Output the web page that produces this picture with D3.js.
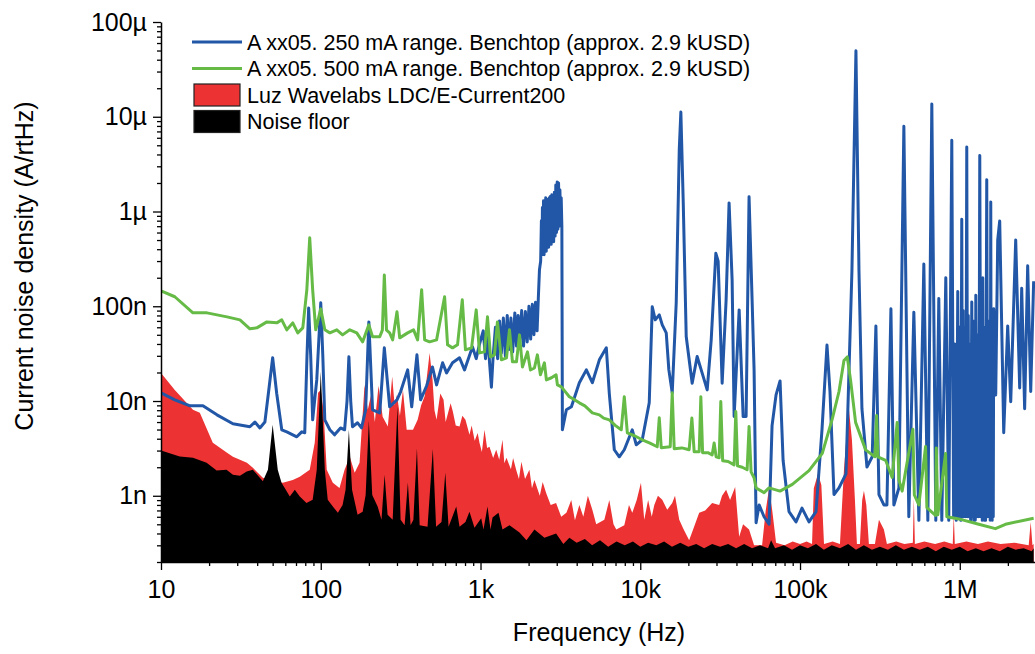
<!DOCTYPE html>
<html><head><meta charset="utf-8">
<script src="https://cdn.jsdelivr.net/npm/d3@7"></script>
<style>body{margin:0;background:#fff}svg{display:block;font-family:"Liberation Sans",Arial,sans-serif}</style>
</head><body><svg id="c" width="1035" height="654"></svg>
<script>
// ---- data (frequency in Hz, noise in nA/rtHz) ----
const xTickValues = [10, 100, 1e3, 1e4, 1e5, 1e6];
const xTickLabels = ["10", "100", "1k", "10k", "100k", "1M"];
const yTickValues = [1, 10, 100, 1e3, 1e4, 1e5];
const yTickLabels = ["1n", "10n", "100n", "1µ", "10µ", "100µ"];
const seriesNames = [
  "A xx05. 250 mA range. Benchtop (approx. 2.9 kUSD)",
  "A xx05. 500 mA range. Benchtop (approx. 2.9 kUSD)",
  "Luz Wavelabs LDC/E-Current200",
  "Noise floor"
];
const seriesColors = ["#2157a6", "#66bb46", "#ec3232", "#000000"];

const blue250 = [
[10,12.2],[12.2,10.3],[15.2,8.9],[18.3,8.9],[22.4,7.15],[28.2,5.75],[36,5.35],[38.7,6.0],[41.6,5.2],[44.7,6.0],[47,12],[50,28.6],[53,12],[57,4.97],[61.3,4.73],[70.8,4.19],[76,4.73],[79.4,4.62],[82,30],[84,96],[86.5,30],[89,6.33],[94.4,16.7],[100,109],[103,30],[106,6.33],[114,4.97],[122,4.4],[133,5.2],[141,4.97],[146,10],[150,29.3],[154,10],[158,5.35],[170,5.89],[180,5.2],[191,8.08],[200,68.4],[211,8.08],[234,7.5],[250,36.4],[270,8.7],[300,10.3],[316,12.5],[350,21.3],[371,8.7],[400,30.7],[422,10.3],[460,14.5],[500,22.9],[531,14.8],[579,25.3],[613,19.8],[668,25.3],[739,28.6],[794,21.3],[891,37.3],[940,28],[986,40],
[1040,55],[1075,28],[1110,50],[1140,25],[1170,14],[1200,30],[1240,60],[1280,28],[1315,70],[1350,32],[1390,75],[1430,30],[1470,80],[1510,35],[1550,75],[1590,33],[1640,85],[1680,38],[1720,80],[1760,40],[1810,90],[1860,38],[1910,88],[1960,42],[2010,100],[2060,45],[2110,105],[2160,50],[2210,110],[2260,55],[2300,120],[2339,242],
[2380,300],[2405,800],[2425,350],[2441,1100],[2460,400],[2480,1300],[2500,350],[2520,1200],[2540,420],[2560,1400],[2580,380],[2600,1300],[2620,450],[2645,1350],[2670,420],[2695,1400],[2720,480],[2745,1450],[2770,450],[2795,1500],[2820,500],[2845,1400],[2870,480],[2900,1600],[2930,550],[2960,1900],[2990,600],[3020,2050],[3050,650],[3080,2000],[3110,700],[3140,1700],[3170,900],[3200,1400],[3230,700],
[3255,4.97],[3447,8.08],[3706,8.7],[4156,15.6],[4597,21.3],[5012,15.6],[5546,27.2],[6131,36.4],[6400,12],[6879,3.06],[7391,2.58],[7943,3.06],[8913,4.97],[9441,3.45],[10290,3.9],[11380,9.57],[11885,98.6],[12410,71.9],[13150,81.1],[13730,63.6],[14540,52.4],[15100,21.3],[15850,12.2],[16790,109],[17540,4467],[17950,11240],[18580,1233],[19390,48],[21130,15.4],[22700,29.5],[24410,19.7],[26240,13.1],[27800,44.2],[29720,362],[30720,300],[32550,15.4],[34470,117],[35970,1233],[37580,190],[38680,6.85],[41590,91.5],[44050,6.85],[45970,6.85],[47970,1430],[50120,117],[51580,21.3],[53090,0.52],[55460,0.8],[59570,0.6],[64000,0.5],[66830,5.5],[70790,11.6],[74990,16.3],[78340,2.37],[85310,0.68],[94410,0.53],[102900,0.74],[113800,0.53],[125900,0.68],[137300,5.03],[147500,39],[154000,12.6],[163200,1.03],[175400,1.21],[193900,1.7],[211300,236],[223900,49800],[233900,236],[244100,8.3],[262400,2.01],[283000,2.58],[298500,62],[311900,1.03],[335000,0.8],[349900,0.8],[370700,94.2],[386800,0.8],[415900,1.21],[446700,7920],[479700,0.6],[515800,86.4],[554600,0.55],[595700,279],[631000,0.55],[668300,13650],[707900,0.55],[739100,121],[771800,0.55],[817500,200],[853200,0.55],[891300,5660],[915000,0.6],[930600,40],[950000,0.55],[971600,143],[985000,0.6],[1.0e6,60],[1.015e6,0.55],[1.029e6,828],[1.04e6,0.6],[1.05e6,90],[1.06e6,0.6],[1.075e6,60],[1.09e6,0.6],[1.106e6,4790],[1.12e6,0.6],[1.13e6,80],[1.14e6,0.6],[1.155e6,40],[1.17e6,0.55],[1.189e6,111],[1.2e6,0.6],[1.215e6,70],[1.225e6,0.55],[1.241e6,60],[1.25e6,0.55],[1.26e6,131],[1.28e6,0.6],[1.3e6,50],[1.315e6,0.6],[1.334e6,3890],[1.355e6,0.6],[1.373e6,30],[1.383e6,0.55],[1.393e6,200],[1.405e6,0.6],[1.415e6,60],[1.425e6,0.55],[1.432e6,50],[1.45e6,0.55],[1.475e6,2160],[1.495e6,0.6],[1.517e6,40],[1.53e6,0.6],[1.54e6,70],[1.55e6,0.55],[1.563e6,1257],[1.575e6,0.6],[1.585e6,50],[1.595e6,0.55],[1.607e6,30],[1.62e6,0.6],[1.631e6,94],[1.679e6,11.6],[1.728e6,501],[1.778e6,794],[1.884e6,4.63],[1.995e6,62],[2.084e6,9.83],[2.239e6,501],[2.371e6,13.7],[2.441e6,155],[2.547e6,8.3],[2.661e6,267],[2.78e6,12.6],[2.9e6,184]
];

const green500 = [
[10,145],[12.2,126],[15.85,85.2],[19.4,85.2],[25.9,77.3],[31.2,71.9],[36,57.8],[39.8,59.2],[46,68.4],[53.1,66.8],[57,71.9],[61.3,56.4],[66.8,66.8],[71.8,52.4],[77.2,59.2],[81.8,149],[85.3,527],[89,149],[93,56.4],[100,93.9],[106,56.4],[114,52.4],[126,56.4],[137,49.9],[152,56.4],[168,52.4],[183,42.1],[200,63.6],[211,47.6],[234,47.6],[243,56],[250,214],[258,56],[270,52.4],[282,44.2],[300,87.3],[312,46.4],[350,52.4],[381,56.4],[404,44.2],[428,149],[447,44.2],[480,42.1],[531,44.2],[596,126],[622,39.2],[668,36.4],[718,39.2],[769,117],[805,34.7],[879,36.4],[940,91.6],[986,32.2],[1059,33],[1106,77.3],[1155,29.3],[1223,30.7],[1276,68.4],[1352,27.2],[1454,28.6],[1518,56.4],[1585,25.9],[1679,25.9],[1754,49.9],[1830,22.9],[1968,33],[2054,21.3],[2175,22.3],[2270,30.7],[2371,18.9],[2512,25.3],[2585,16.7],[2780,17.6],[2972,18.9],[3030,14.8],[3208,14.1],[3400,12.5],[3597,11.1],[3850,10.4],[4156,9.57],[4500,8.9],[5012,7.5],[5546,7.15],[5900,6.6],[6400,6.33],[7000,5.5],[7600,4.97],[7943,11.1],[8300,4.62],[9200,4.3],[10290,3.9],[11500,3.6],[12770,3.29],[13150,6.65],[13530,3.21],[15400,3.29],[15850,12.2],[16310,3.13],[18200,3.2],[20230,3.06],[21040,6.6],[21750,2.91],[23380,2.91],[23940,11.1],[24560,2.84],[26500,2.85],[28180,2.7],[29000,3.6],[29850,2.58],[31190,2.52],[31920,9.87],[32790,2.34],[35500,2.3],[38680,2.12],[39630,7.75],[40650,2.07],[43500,2.0],[46650,1.88],[47970,5.38],[49400,1.79],[51580,1.55],[53090,1.21],[59570,1.08],[64000,1.21],[74990,1.12],[89500,1.32],[113800,1.84],[137800,2.8],[159200,6.47],[175400,12.6],[188400,26.8],[197600,29.2],[207500,16.3],[222800,5.95],[257500,3.05],[294400,2.58],[301500,7.03],[307300,2.58],[343400,2.37],[377500,1.56],[405600,5.95],[415900,1.47],[435900,1.12],[508600,5.03],[519600,1.02],[554600,0.8],[610800,3.31],[622300,0.75],[705000,0.62],[713200,3.2],[728800,0.63],[814700,2.8],[829700,0.6],[986000,0.57],[1.315e6,0.5],[1.671e6,0.45],[1.931e6,0.5],[2.9e6,0.58]
];

const luzRed = [
[10,19.8],[12.2,13.1],[15.85,8.08],[17.5,7.5],[21.1,3.62],[25.9,2.84],[28.2,2.58],[34.5,2.23],[37.6,1.97],[43.4,1.55],[50,1.44],[57.9,1.37],[66.8,1.47],[73.9,1.59],[85.3,1.88],[91.7,3.62],[96.2,12.2],[100,13.1],[104,8.08],[109,1.88],[119,1.37],[131,1.21],[141,1.88],[152,2.58],[163,1.75],[175,2.23],[188,14.8],[197,8.08],[208,12.2],[218,6],[230,14.5],[244,6.81],[263,5.38],[280,18.1],[290,9],[300,11.6],[313,7],[327,13.1],[345,4.97],[378,4.97],[404,6.33],[425,9],[447,11.2],[465,20],[480,32.2],[501,16.7],[515,8],[531,6.33],[560,12],[587,10.3],[605,6],[622,7.15],[650,9.5],[671,7.75],[700,5.5],[739,5.38],[770,7],[805,6.33],[853,4.4],[880,5.5],[920,3.8],[960,4.6],[986,3.6],[1020,2.9],[1059,4.97],[1100,3.2],[1138,3.29],[1200,2.5],[1254,3.06],[1310,2.4],[1373,3.9],[1410,2.2],[1454,2.52],[1550,1.9],[1600,2.5],[1671,1.88],[1740,1.5],[1803,2.28],[1900,1.5],[2023,1.88],[2100,1.2],[2175,1.47],[2350,1.0],[2450,1.4],[2575,1.07],[2750,0.8],[2972,0.84],[3200,0.6],[3447,0.66],[3700,0.9],[3900,0.55],[4156,0.8],[4400,0.6],[4700,1.0],[5012,0.71],[5300,0.5],[5957,0.56],[6400,0.9],[6800,0.5],[7079,0.44],[7943,0.49],[8500,0.8],[8913,0.66],[9500,0.9],[10100,1.37],[10590,0.56],[11200,0.9],[11800,0.6],[12240,0.8],[12900,1.0],[13730,0.91],[14750,0.71],[15850,0.84],[16500,1.0],[17540,0.56],[18600,0.45],[20230,0.34],[21500,0.45],[23380,0.66],[25500,0.7],[28180,0.84],[31190,0.8],[32500,1.0],[34470,1.16],[36500,0.9],[39260,1.24],[41590,0.37],[44000,0.5],[47970,0.44],[51580,0.3],[57880,0.3],[61000,0.7],[64000,1.19],[67000,0.7],[70790,0.32],[80000,0.3],[90000,0.33],[100000,0.31],[110000,0.33],[118900,0.31],[122000,1.2],[129600,1.71],[136000,1.3],[141300,0.31],[160000,0.33],[177800,0.31],[188400,1.88],[196700,4.97],[202300,8.27],[211300,3.9],[220600,0.91],[227000,0.31],[237100,0.31],[245000,0.9],[251200,1.13],[260000,0.8],[269800,0.31],[294400,0.31],[311900,0.56],[335000,0.44],[349900,0.31],[400000,0.33],[450000,0.31],[508600,0.32],[515800,0.95],[523600,0.31],[600000,0.33],[700000,0.31],[800000,0.33],[903600,0.31],[917500,0.63],[930600,0.31],[1.1e6,0.33],[1.3e6,0.31],[1.5e6,0.33],[1.8e6,0.31],[2.2e6,0.32],[2.7e6,0.3],[2.78e6,0.53],[2.85e6,0.3],[2.9e6,0.31]
];

const noiseFloor = [
[10,3.0],[13.1,2.6],[15.85,2.52],[19.3,2.23],[22.3,1.85],[25.7,1.88],[28.2,1.67],[31.2,1.63],[34.4,1.8],[37.6,1.88],[43.4,1.42],[46.7,1.88],[50,5.61],[53.8,1.88],[56.8,1.37],[60.4,1.16],[64,0.98],[68.8,1.16],[73.9,0.98],[81.4,0.84],[89,0.91],[94.4,1.88],[100,20.5],[106,1.88],[110.6,0.91],[119,0.77],[128,0.66],[137,0.8],[143,1.16],[150,4.97],[157,1.16],[170,0.63],[183,0.68],[191,1.02],[200,6.23],[210,1.02],[227,0.77],[240,0.56],[251,1.67],[262,0.63],[282,0.56],[302,8.75],[316,0.56],[335,0.49],[351,1.38],[365,0.49],[380,0.56],[400,3.18],[416,0.49],[466,0.47],[503,3.11],[527,0.47],[570,0.53],[602,1.76],[631,0.47],[705,0.77],[739,0.47],[805,0.53],[853,0.68],[917,0.46],[1010,0.58],[1044,0.44],[1106,0.77],[1155,0.44],[1189,0.59],[1296,0.66],[1373,0.44],[1518,0.49],[1754,0.41],[1939,0.34],[2175,0.44],[2512,0.36],[2972,0.4],[3300,0.31],[3600,0.36],[4000,0.32],[4500,0.35],[5000,0.3],[5600,0.34],[6300,0.29],[7100,0.33],[8000,0.3],[9000,0.33],[10000,0.29],[11200,0.32],[12600,0.3],[14100,0.33],[15800,0.29],[17800,0.32],[20000,0.29],[22400,0.31],[25100,0.28],[28200,0.31],[31600,0.29],[35500,0.31],[39800,0.28],[44700,0.31],[50100,0.28],[56200,0.3],[63100,0.28],[65900,0.34],[69800,0.28],[79400,0.3],[89100,0.27],[100000,0.3],[112000,0.28],[126000,0.31],[141000,0.27],[158000,0.3],[178000,0.28],[200000,0.31],[224000,0.27],[251000,0.3],[282000,0.27],[316000,0.29],[355000,0.27],[398000,0.3],[447000,0.27],[501000,0.29],[562000,0.27],[631000,0.29],[708000,0.26],[794000,0.29],[891000,0.27],[1e6,0.29],[1.12e6,0.26],[1.26e6,0.28],[1.41e6,0.26],[1.58e6,0.28],[1.78e6,0.26],[2e6,0.29],[2.24e6,0.27],[2.51e6,0.28],[2.82e6,0.26],[2.9e6,0.28]
];

// ---- drawing ----
const L = 161, R = 1036, T = 22, B = 562;
const svg = d3.select("#c");
const x = d3.scaleLog().domain([10, 3e6]).range([L, R]);
const y = d3.scaleLog().domain([0.2, 1e5]).range([B, T]);

svg.append("defs").append("clipPath").attr("id", "clip")
  .append("rect").attr("x", L).attr("y", T - 2).attr("width", R - L).attr("height", B - T + 2);

const plot = svg.append("g").attr("clip-path", "url(#clip)");
const area = d3.area().x(d => x(d[0])).y0(B).y1(d => y(d[1]));
const line = d3.line().x(d => x(d[0])).y(d => y(d[1]));

plot.append("path").datum(luzRed).attr("d", area).attr("fill", seriesColors[2]);
plot.append("path").datum(noiseFloor).attr("d", area).attr("fill", seriesColors[3]);
plot.append("path").datum(blue250).attr("d", line).attr("fill", "none")
  .attr("stroke", seriesColors[0]).attr("stroke-width", 3).attr("stroke-linejoin", "round");
plot.append("path").datum(green500).attr("d", line).attr("fill", "none")
  .attr("stroke", seriesColors[1]).attr("stroke-width", 3).attr("stroke-linejoin", "round");

// minor ticks
const xMinor = [];
for (let d = 10; d <= 1e6; d *= 10) for (let m = 2; m <= 9; m++) if (d * m <= 3e6) xMinor.push(d * m);
const yMinor = [];
for (let d = 0.1; d <= 1e4 * 1.01; d *= 10) for (let m = 2; m <= 9; m++) { const v = d * m; if (v >= 0.2 && v <= 1e5) yMinor.push(v); }

const fontSize = 25;
const gx = svg.append("g").attr("transform", `translate(0,${B})`);
gx.call(d3.axisBottom(x).tickValues(xMinor).tickSize(4).tickSizeOuter(0).tickFormat(""));
gx.call(g => g.select(".domain").remove());
const gx2 = svg.append("g").attr("transform", `translate(0,${B})`);
gx2.call(d3.axisBottom(x).tickValues(xTickValues).tickSize(8).tickSizeOuter(0).tickPadding(10)
  .tickFormat((d, i) => xTickLabels[i]));

const gy = svg.append("g").attr("transform", `translate(${L},0)`);
gy.call(d3.axisLeft(y).tickValues(yMinor).tickSize(4).tickSizeOuter(0).tickFormat(""));
gy.call(g => g.select(".domain").remove());
const gy2 = svg.append("g").attr("transform", `translate(${L},0)`);
gy2.call(d3.axisLeft(y).tickValues(yTickValues).tickSize(8).tickSizeOuter(0).tickPadding(6)
  .tickFormat((d, i) => yTickLabels[i]));

svg.selectAll(".tick line").attr("stroke", "#000").attr("stroke-width", 1.3);
svg.selectAll(".domain").attr("stroke", "#000").attr("stroke-width", 1.5);
svg.selectAll(".tick text").attr("font-size", fontSize).attr("fill", "#000")
  .attr("font-family", '"Liberation Sans",Arial,sans-serif');

// axis titles
svg.append("text").attr("x", 599).attr("y", 641).attr("text-anchor", "middle")
  .attr("font-size", fontSize).text("Frequency (Hz)");
svg.append("text").attr("transform", "translate(33,266) rotate(-90)").attr("text-anchor", "middle")
  .attr("font-size", fontSize).text("Current noise density (A/rtHz)");

// legend
const lg = svg.append("g");
const rows = [42, 68.5, 95, 121.5];
lg.append("line").attr("x1", 192).attr("x2", 242).attr("y1", rows[0]).attr("y2", rows[0])
  .attr("stroke", seriesColors[0]).attr("stroke-width", 3);
lg.append("line").attr("x1", 192).attr("x2", 242).attr("y1", rows[1]).attr("y2", rows[1])
  .attr("stroke", seriesColors[1]).attr("stroke-width", 3);
[2, 3].forEach(i => {
  lg.append("rect").attr("x", 194).attr("y", rows[i] - 11).attr("width", 46).attr("height", 22)
    .attr("fill", seriesColors[i]).attr("stroke", "#222").attr("stroke-width", 1.2);
});
seriesNames.forEach((n, i) => {
  lg.append("text").attr("x", 247).attr("y", rows[i]).attr("dy", "0.35em")
    .attr("font-size", 21.5).attr("fill", "#000").text(n);
});
</script></body></html>
